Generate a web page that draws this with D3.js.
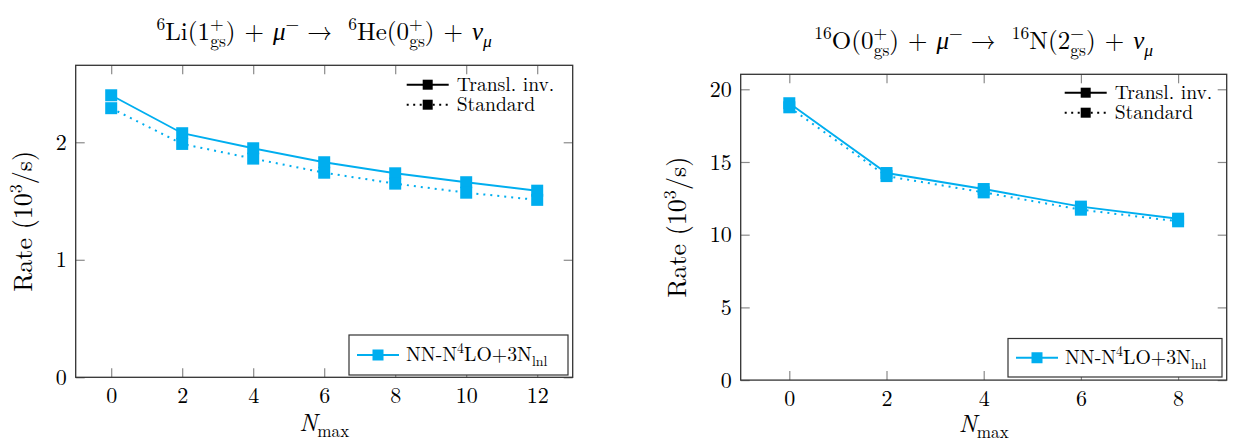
<!DOCTYPE html>
<html>
<head>
<meta charset="utf-8">
<script src="https://cdn.jsdelivr.net/npm/d3@7"></script>
<style>
  html, body { margin: 0; padding: 0; background: #fff; }
  svg { display: block; }
</style>
</head>
<body>
<svg id="chart" width="1234" height="442"></svg>
<script>
// ---------- data ----------
const liNmax = [0, 2, 4, 6, 8, 10, 12];
const liTranslInv = [2.40, 2.077, 1.949, 1.830, 1.736, 1.660, 1.588];
const liStandard  = [2.29, 1.986, 1.861, 1.741, 1.648, 1.571, 1.51];
const liXTicks = [0, 2, 4, 6, 8, 10, 12];
const liYTicks = [0, 1, 2];

const oNmax = [0, 2, 4, 6, 8];
const oTranslInv = [19.04, 14.24, 13.14, 11.93, 11.10];
const oStandard  = [18.76, 14.03, 12.91, 11.72, 10.92];
const oXTicks = [0, 2, 4, 6, 8];
const oYTicks = [0, 5, 10, 15, 20];

const legendStyles = ["Transl. inv.", "Standard"];
const seriesName = [{t: "NN-N"}, {t: "4", k: "sup"}, {t: "LO+3N"}, {t: "lnl", k: "sub"}];

const liTitle = [
  {t: "6", k: "sup"}, {t: "Li(1"}, {t: "+", k: "sup"}, {t: "gs", k: "sub", back: 13.5},
  {t: ")"}, {t: "+", gap: 9}, {t: "μ", i: true, gap: 9}, {t: "−", k: "sup"}, {t: "→", gap: 8},
  {t: "6", k: "sup", gap: 16}, {t: "He(0"}, {t: "+", k: "sup"}, {t: "gs", k: "sub", back: 13.5},
  {t: ")"}, {t: "+", gap: 9}, {t: "ν", i: true, gap: 9}, {t: "μ", k: "sub", i: true}
];
const oTitle = [
  {t: "16", k: "sup"}, {t: "O(0"}, {t: "+", k: "sup"}, {t: "gs", k: "sub", back: 13.5},
  {t: ")"}, {t: "+", gap: 9}, {t: "μ", i: true, gap: 9}, {t: "−", k: "sup"}, {t: "→", gap: 8},
  {t: "16", k: "sup", gap: 16}, {t: "N(2"}, {t: "−", k: "sup"}, {t: "gs", k: "sub", back: 13.5},
  {t: ")"}, {t: "+", gap: 9}, {t: "ν", i: true, gap: 9}, {t: "μ", k: "sub", i: true}
];

const CYAN = "#00AEEF";
const FONT = '"Latin Modern Roman", "Liberation Serif", serif';
const svg = d3.select("#chart");

function richText(textSel, parts, size) {
  let cur = 0;
  parts.forEach(p => {
    const ts = textSel.append("tspan").text(p.t);
    const off = p.k === "sup" ? -0.4 * size : p.k === "sub" ? 0.26 * size : 0;
    ts.attr("dy", off - cur);
    cur = off;
    if (p.k) ts.style("font-size", (0.7 * size) + "px");
    if (p.i) ts.style("font-style", "italic");
    if (p.back) ts.attr("dx", -p.back);
    if (p.gap) ts.attr("dx", p.gap);
  });
}

function txt(g, size) {
  return g.append("text").style("font-family", FONT).style("font-size", size + "px").attr("fill", "#000");
}

function panel(cfg) {
  const {x0, x1, y0, y1} = cfg;
  const x = d3.scaleLinear().domain(cfg.xDomain).range([x0, x1]);
  const y = d3.scaleLinear().domain(cfg.yDomain).range([y1, y0]);
  const g = svg.append("g");

  const tickLen = 9;
  const axB = g.append("g").attr("transform", `translate(0,${y1})`)
    .call(d3.axisBottom(x).tickValues(cfg.xTicks).tickSize(-tickLen).tickPadding(10).tickFormat(d3.format("d")));
  const axT = g.append("g").attr("transform", `translate(0,${y0})`)
    .call(d3.axisTop(x).tickValues(cfg.xTicks).tickSize(-tickLen).tickFormat(""));
  const axL = g.append("g").attr("transform", `translate(${x0},0)`)
    .call(d3.axisLeft(y).tickValues(cfg.yTicks).tickSize(-tickLen).tickPadding(9).tickFormat(d3.format("d")));
  const axR = g.append("g").attr("transform", `translate(${x1},0)`)
    .call(d3.axisRight(y).tickValues(cfg.yTicks).tickSize(-tickLen).tickFormat(""));
  [axB, axT, axL, axR].forEach(a => {
    a.select(".domain").remove();
    a.selectAll(".tick line").attr("stroke", "#8a8a8a").attr("stroke-width", 1.2);
    a.selectAll(".tick text").style("font-family", FONT).style("font-size", "22px").attr("fill", "#000");
  });

  g.append("rect").attr("x", x0).attr("y", y0).attr("width", x1 - x0).attr("height", y1 - y0)
    .attr("fill", "none").attr("stroke", "#333").attr("stroke-width", 1.3);

  const line = d3.line().x(d => x(d[0])).y(d => y(d[1]));
  const solid = cfg.n.map((n, i) => [n, cfg.transl[i]]);
  const dotted = cfg.n.map((n, i) => [n, cfg.standard[i]]);
  g.append("path").attr("d", line(solid)).attr("fill", "none").attr("stroke", CYAN).attr("stroke-width", 1.9);
  g.append("path").attr("d", line(dotted)).attr("fill", "none").attr("stroke", CYAN).attr("stroke-width", 2)
    .attr("stroke-dasharray", "2,5");
  const ms = 12;
  [solid, dotted].forEach(arr => {
    g.selectAll(null).data(arr).enter().append("rect")
      .attr("x", d => x(d[0]) - ms / 2).attr("y", d => y(d[1]) - ms / 2)
      .attr("width", ms).attr("height", ms).attr("fill", CYAN);
  });

  legendStyles.forEach((lab, i) => {
    const ly = cfg.legY + i * 20;
    const lx0 = x1 - cfg.legOff;
    g.append("line").attr("x1", lx0).attr("x2", lx0 + 42).attr("y1", ly).attr("y2", ly)
      .attr("stroke", "#000").attr("stroke-width", 2)
      .attr("stroke-dasharray", i === 1 ? "2,4.5" : null);
    g.append("rect").attr("x", lx0 + 21 - 5).attr("y", ly - 5).attr("width", 10).attr("height", 10).attr("fill", "#000");
    txt(g, 19.6).attr("x", lx0 + 50).attr("y", ly + 6).text(lab);
  });

  const b = cfg.box;
  g.append("rect").attr("x", b.x).attr("y", b.y).attr("width", b.w).attr("height", b.h)
    .attr("fill", "#fff").attr("stroke", "#333").attr("stroke-width", 1.2);
  const ly = b.y + b.h / 2;
  g.append("line").attr("x1", b.x + 8).attr("x2", b.x + 50).attr("y1", ly).attr("y2", ly)
    .attr("stroke", CYAN).attr("stroke-width", 1.9);
  g.append("rect").attr("x", b.x + 29 - 5.5).attr("y", ly - 5.5).attr("width", 11).attr("height", 11).attr("fill", CYAN);
  const bt = txt(g, 19.8).attr("x", b.x + 57).attr("y", ly + 6);
  richText(bt, seriesName, 19.8);

  const tt = txt(g, 25).attr("x", (x0 + x1) / 2).attr("y", cfg.titleY).attr("text-anchor", "middle");
  richText(tt, cfg.title, 25);

  const xl = txt(g, 24.5).attr("x", (x0 + x1) / 2).attr("y", cfg.xLabY).attr("text-anchor", "middle");
  richText(xl, [{t: "N", i: true}, {t: "max", k: "sub"}], 24.5);

  const yl = txt(g, 26)
    .attr("transform", `translate(${cfg.yLabX},${(y0 + y1) / 2}) rotate(-90)`)
    .attr("text-anchor", "middle");
  richText(yl, [{t: "Rate (10"}, {t: "3", k: "sup"}, {t: "/s)"}], 26);
}

panel({
  x0: 75.7, x1: 572.7, y0: 65.3, y1: 377.3,
  xDomain: [-1, 13], yDomain: [0, 2.655],
  xTicks: liXTicks, yTicks: liYTicks,
  n: liNmax, transl: liTranslInv, standard: liStandard,
  legY: 84.7, legOff: 166,
  box: {x: 349, y: 335, w: 219, h: 40},
  title: liTitle, titleY: 40, xLabY: 431, yLabX: 32
});

panel({
  x0: 740.7, x1: 1226.7, y0: 74.3, y1: 380.1,
  xDomain: [-1, 9], yDomain: [0, 21.03],
  xTicks: oXTicks, yTicks: oYTicks,
  n: oNmax, transl: oTranslInv, standard: oStandard,
  legY: 92.7, legOff: 162,
  box: {x: 1008, y: 338.5, w: 214, h: 38.5},
  title: oTitle, titleY: 49, xLabY: 432, yLabX: 686
});
</script>
</body>
</html>
